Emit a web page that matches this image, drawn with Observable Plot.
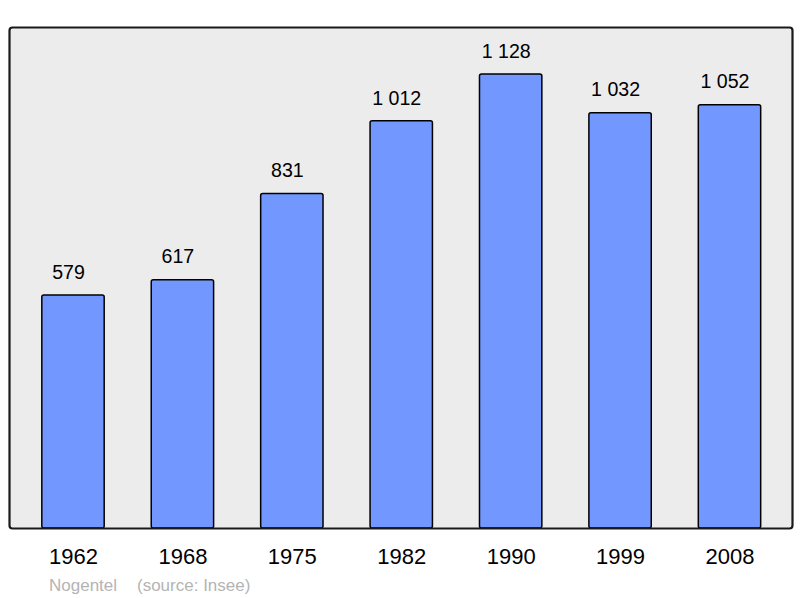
<!DOCTYPE html>
<html>
<head>
<meta charset="utf-8">
<script src="https://cdn.jsdelivr.net/npm/d3@7"></script>
<script src="https://cdn.jsdelivr.net/npm/@observablehq/plot@0.6"></script>
<style>
  html, body { margin: 0; padding: 0; background: #fff; }
  #chart { position: relative; width: 800px; height: 598px; }
  .cap { position: absolute; top: 575px; font-family: "Liberation Sans", Arial, sans-serif; font-size: 17px; line-height: 22px; color: #b4b4b4; white-space: pre; }
</style>
</head>
<body>
<div id="chart"></div>
<script>
const years = ["1962", "1968", "1975", "1982", "1990", "1999", "2008"];
const population = [579, 617, 831, 1012, 1128, 1032, 1052];
const valueLabels = ["579", "617", "831", "1 012", "1 128", "1 032", "1 052"];
const commune = "Nogentel";
const source = "(source: Insee)";

const data = years.map((y, i) => ({year: y, pop: population[i], label: valueLabels[i]}));

const chart = Plot.plot({
  width: 800,
  height: 598,
  marginLeft: 9,
  marginRight: 8,
  marginTop: 27,
  marginBottom: 70,
  style: {fontFamily: "'Liberation Sans', Arial, sans-serif", background: "#fff"},
  x: {domain: years, type: "band", range: [18.3, 784.2], paddingInner: 0.43, paddingOuter: 0.215, round: false, label: null},
  y: {domain: [0, 1245], axis: null},
  marks: [
    Plot.frame({fill: "#ececec", stroke: "none"}),
    Plot.barY(data, {x: "year", y: "pop", fill: "#7298ff", stroke: "#000", strokeWidth: 1.5, rx: 2}),
    Plot.frame({stroke: "#1a1a1a", strokeWidth: 2.2, rx: 3}),
    Plot.text(data, {x: "year", y: "pop", text: "label", dy: -23, dx: -5, fontSize: 19.6, fill: "#000"}),
    Plot.axisX({tickSize: 0, tickPadding: 20, fontSize: 22, fill: "#000", label: null})
  ]
});
const host = document.getElementById("chart");
host.appendChild(chart);
const c1 = document.createElement("div");
c1.className = "cap"; c1.style.left = "49px"; c1.textContent = commune;
const c2 = document.createElement("div");
c2.className = "cap"; c2.style.left = "137px"; c2.textContent = source;
host.appendChild(c1); host.appendChild(c2);
</script>
</body>
</html>
